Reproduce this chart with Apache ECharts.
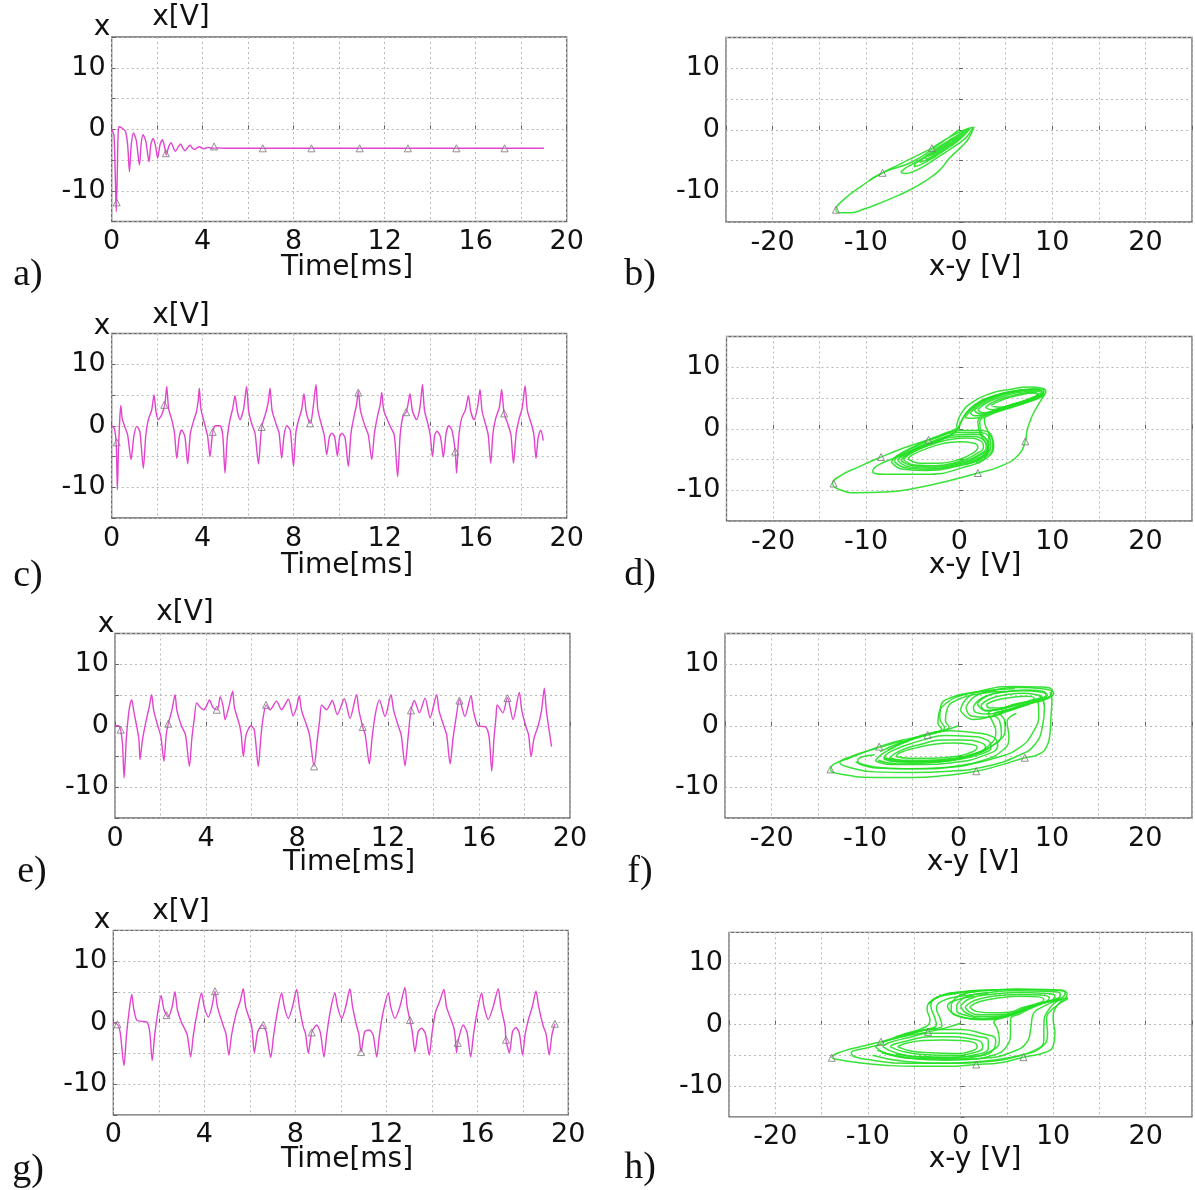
<!DOCTYPE html>
<html>
<head>
<meta charset="utf-8">
<script src="https://cdn.jsdelivr.net/npm/echarts@6/dist/echarts.min.js"></script>
<style>
  html, body { margin: 0; padding: 0; background: #fff; }
  #chart { width: 1195px; height: 1190px; }
</style>
</head>
<body>
<div id="chart"></div>
<script>
// tick labels
var timeTicks = [0, 4, 8, 12, 16, 20];
var phaseTicks = [-20, -10, 0, 10, 20];
var voltTicks = [-10, 0, 10];

// a) transient, x[V] vs time [ms]
var seriesA = [[0,0],[0.1,-1],[0.16,-8],[0.2,-13.4],[0.24,-8],[0.28,-1],[0.32,0.4],[0.45,0.2],[0.6,-0.3],[0.7,-2.5],[0.78,-6.9],[0.86,-2.5],[0.96,-0.6],[1.08,-1.8],[1.22,-5.8],[1.3,-2.2],[1.38,-0.9],[1.5,-2],[1.64,-5.3],[1.72,-2.5],[1.82,-1.5],[1.92,-2.6],[2.02,-4.7],[2.12,-2.6],[2.23,-1.7],[2.32,-2.8],[2.4,-4.2],[2.5,-2.9],[2.61,-2.2],[2.71,-3],[2.8,-3.6],[2.92,-2.9],[3.03,-2.4],[3.13,-3.1],[3.22,-3.5],[3.33,-3],[3.44,-2.6],[3.55,-3.1],[3.65,-3.3],[3.76,-3],[3.87,-2.85],[3.97,-3.1],[4.06,-3.15],[4.17,-3],[4.28,-2.95],[4.4,-3.1],[4.5,-3.1],[4.7,-3.05],[5,-3.1],[19,-3.1]];
var marksA = [[0.22,-11.9],[2.38,-3.9],[4.5,-2.8],[6.64,-3.1],[8.78,-3.1],[10.9,-3.1],[13.02,-3.1],[15.15,-3.1],[17.27,-3.1]];

// c) chaotic regime
var seriesC = [[0,0],[0.12,-0.5],[0.2,-3],[0.25,-10.4],[0.3,-3.5],[0.36,1.5],[0.4,3.3],[0.46,1.2],[0.56,0],[0.7,-1.5],[0.85,-5.5],[0.97,-1.8],[1.1,-0.1],[1.24,-1],[1.39,-6.9],[1.5,-1.5],[1.61,1],[1.76,2.6],[1.86,5.0],[1.95,2.2],[2.05,1],[2.2,1.8],[2.34,3.6],[2.42,6.4],[2.5,2.8],[2.64,1.0],[2.76,-1.2],[2.86,-5.3],[2.97,-1.8],[3.08,-0.7],[3.22,-1.8],[3.34,-6.2],[3.46,-1.2],[3.6,0.8],[3.72,2.2],[3.8,4],[3.85,6.1],[3.92,2.8],[4.05,0.8],[4.14,-0.5],[4.22,-1.8],[4.32,-5.0],[4.44,-1.0],[4.56,0],[4.76,0],[4.88,-1.5],[4.98,-7.7],[5.08,-2],[5.2,1],[5.32,2.8],[5.42,4.9],[5.52,2.4],[5.64,1.0],[5.8,2.8],[5.93,6.4],[6.02,2.4],[6.15,0.4],[6.3,-1.2],[6.45,-6.2],[6.59,-0.2],[6.75,1.8],[6.88,3.8],[6.96,6.1],[7.05,2.5],[7.25,0],[7.36,-1.2],[7.47,-5.3],[7.58,-1.5],[7.7,0],[7.85,-0.8],[7.99,-6.6],[8.1,-1],[8.22,1],[8.35,2.6],[8.45,5.2],[8.55,2.2],[8.68,0.6],[8.74,0.4],[8.85,2.8],[8.98,6.7],[9.06,2.6],[9.23,0],[9.34,-1.5],[9.45,-4.7],[9.57,-1.8],[9.67,-1.2],[9.8,-1.8],[9.92,-4.9],[10.02,-1.8],[10.12,-1.2],[10.26,-2],[10.4,-6.6],[10.52,-1.2],[10.65,1.5],[10.76,3.4],[10.84,5.6],[10.93,2.6],[11.13,0],[11.28,-1.5],[11.43,-5.5],[11.55,-1.2],[11.68,1.5],[11.8,3.4],[11.87,5.4],[11.96,2.5],[12.23,0],[12.42,-1.5],[12.57,-8.3],[12.68,-1.5],[12.8,1.5],[12.94,2.2],[13.02,3.4],[13.11,5.2],[13.22,2.4],[13.4,1],[13.55,3],[13.66,6.7],[13.75,2.5],[13.92,0],[14.0,-1.5],[14.1,-5.0],[14.2,-1.5],[14.3,-0.9],[14.45,-1.8],[14.58,-5.1],[14.7,-1.2],[14.82,0],[14.96,-0.8],[15.1,-4.2],[15.16,-7.7],[15.25,-2],[15.38,1.2],[15.55,2.6],[15.68,4.9],[15.78,2.4],[15.92,1],[16.08,3],[16.19,5.9],[16.28,2.4],[16.45,0],[16.55,-1.5],[16.66,-6.1],[16.76,-1.2],[16.88,1.2],[17.04,3],[17.14,5.9],[17.25,2.0],[17.44,0],[17.55,-1.5],[17.66,-6.1],[17.78,-1.2],[17.9,1],[18.05,3],[18.17,6.5],[18.27,2.5],[18.47,0],[18.56,-1.5],[18.65,-5.3],[18.75,-1.8],[18.86,-0.7],[18.97,-2.4]];
var marksC = [[0.22,-2.7],[2.31,3.4],[4.44,-1.0],[6.59,-0.2],[8.72,0.4],[10.84,5.4],[12.94,2.2],[15.1,-4.2],[17.25,2.0]];

// e)
var seriesE = [[0,0],[0.15,0],[0.25,-0.7],[0.33,-3],[0.4,-8.5],[0.5,-2],[0.6,2],[0.68,3.8],[0.74,4.2],[0.82,2.5],[0.95,0],[1.05,-2.2],[1.1,-5.5],[1.2,-2.5],[1.35,0.5],[1.5,3],[1.61,5.05],[1.7,2.5],[1.88,0],[2.02,-1.8],[2.15,-5.8],[2.25,-1.5],[2.34,0.3],[2.5,2.5],[2.64,5.05],[2.72,2.5],[2.92,0],[3.1,-1.5],[3.27,-6.6],[3.38,-2],[3.48,1],[3.59,3.7],[3.75,3.0],[3.9,2.6],[4.02,3.2],[4.15,4.2],[4.3,3.0],[4.47,2.6],[4.55,3.2],[4.62,4.7],[4.75,3.2],[4.84,1.0],[5.0,3],[5.17,5.6],[5.25,3],[5.48,0],[5.55,-1.5],[5.64,-5],[5.76,-1.5],[5.97,0],[6.12,-0.6],[6.3,-6.6],[6.42,-1.5],[6.52,1.5],[6.64,3.4],[6.82,2.6],[7.1,4],[7.32,2.6],[7.62,4.3],[7.83,1.6],[7.98,3],[8.1,4.9],[8.2,2.5],[8.43,0],[8.55,-1.5],[8.75,-6.6],[8.9,-2],[9.0,1],[9.08,3.4],[9.3,2.6],[9.55,4.1],[9.77,1.8],[10.08,4.4],[10.33,1.2],[10.62,5.05],[10.72,2.5],[10.89,-0.2],[11.0,-1.5],[11.18,-6.2],[11.3,-2],[11.45,2],[11.62,4.2],[11.87,1.5],[12.13,5.05],[12.25,2.5],[12.45,0],[12.58,-1.5],[12.75,-6.5],[12.88,-2],[13.01,2.5],[13.16,4.1],[13.38,2.1],[13.63,4.5],[13.85,1.3],[14.14,5.05],[14.24,2.5],[14.45,0],[14.58,-1.5],[14.73,-6.2],[14.86,-2],[15.0,1.5],[15.14,4.3],[15.38,1.5],[15.65,4.9],[15.75,2.5],[15.95,0],[16.3,-0.2],[16.45,-2],[16.56,-7.4],[16.66,-2],[16.75,1.5],[16.8,3.4],[17.05,2.1],[17.25,4.6],[17.5,1],[17.77,5.4],[17.88,2.5],[18.05,0],[18.18,-1.5],[18.29,-5],[18.42,-2],[18.6,0],[18.75,2.5],[18.87,6.1],[18.96,2.5],[19.19,-3.4]];
var marksE = [[0.25,-0.65],[2.34,0.33],[4.47,2.6],[6.64,3.4],[8.75,-6.6],[10.89,-0.2],[13.01,2.5],[15.14,4.1],[17.25,4.5]];

// g)
var seriesG = [[0,0],[0.18,-0.3],[0.3,-1.5],[0.47,-7.0],[0.58,-2],[0.7,2],[0.81,4.6],[0.9,2.2],[1.03,0.4],[1.25,0.2],[1.47,0.1],[1.6,-1.5],[1.71,-6.2],[1.82,-2],[1.95,1.5],[2.1,4.4],[2.22,2.2],[2.34,1.2],[2.42,0.9],[2.58,2.5],[2.71,5.0],[2.82,2],[3.0,0],[3.08,-0.6],[3.25,-2],[3.4,-5.6],[3.52,-2],[3.68,1.5],[3.88,4.8],[4.0,2.5],[4.18,0.9],[4.33,2.5],[4.47,5.1],[4.58,2.5],[4.84,-0.6],[4.95,-1.8],[5.08,-5.3],[5.2,-2],[5.4,1.5],[5.58,3.5],[5.71,5.5],[5.82,2.5],[6.08,-0.6],[6.2,-4.9],[6.35,-1.5],[6.55,-0.4],[6.72,-1.5],[6.92,-5.7],[7.05,-2],[7.2,1.5],[7.4,4.8],[7.52,2.5],[7.69,0.65],[7.88,2.6],[8.06,5.4],[8.18,2.5],[8.35,-0.7],[8.45,-1.8],[8.57,-5.0],[8.72,-1.6],[8.94,-0.4],[9.1,-1.6],[9.26,-5.6],[9.38,-2],[9.52,1.5],[9.74,4.8],[9.86,2.5],[10.04,0.65],[10.22,2.6],[10.4,5.5],[10.52,2.5],[10.7,-0.6],[10.79,-1.8],[10.89,-4.8],[11.05,-1.5],[11.25,-1.2],[11.42,-2],[11.58,-5.6],[11.7,-2],[11.85,1.5],[12.09,4.8],[12.2,2.5],[12.38,0.65],[12.6,2.6],[12.82,5.7],[12.92,2.5],[13.04,0.4],[13.14,-1.5],[13.26,-4.8],[13.4,-1.5],[13.55,-0.9],[13.72,-1.8],[13.89,-5.3],[14.0,-2],[14.15,1.5],[14.35,3.5],[14.53,5.4],[14.65,2.5],[14.95,-0.6],[15.02,-2],[15.09,-4.9],[15.14,-3.3],[15.38,-0.4],[15.55,-1.6],[15.71,-5.6],[15.83,-2],[15.98,1.5],[16.19,4.8],[16.3,2.5],[16.48,0.5],[16.7,2.6],[16.92,5.5],[17.04,2.5],[17.22,-0.6],[17.26,-2.8],[17.41,-4.9],[17.55,-1.5],[17.7,-0.8],[17.85,-1.8],[17.99,-5.3],[18.1,-2],[18.24,0.4],[18.42,2.6],[18.58,5.1],[18.7,2.5],[18.9,-0.6],[19.02,-1.8],[19.16,-5.3],[19.28,-2],[19.41,-0.2]];
var marksG = [[0.18,-0.3],[2.34,1.2],[4.47,5.1],[6.59,-0.4],[8.72,-1.6],[10.89,-4.8],[13.04,0.4],[15.14,-3.3],[17.26,-2.8],[19.41,-0.2]];

// b) phase portrait x-y vs x, transient spiral
var loopsB = [
  [[0,0],[-2,-2.2],[-5,-5.2],[-8.2,-7],[-10.5,-9.2],[-12.4,-11.4],[-13.2,-13],[-12.6,-13.5],[-11.6,-13.5],[-10.2,-12.9],[-8.6,-12],[-7,-11],[-5.3,-9.8],[-3.6,-8.3],[-2.1,-6.6],[-1,-4.6],[0.3,-2.7],[1.0,-1.5],[1.6,0.4],[1.2,0.3],[0,-0.4],[-1.5,-1.6],[-2.9,-3]],
  [[-2.9,-3],[-4.5,-4.2],[-6.5,-5.7],[-8.2,-7],[-9.6,-8.2]],
  [[1.5,0.4],[0.8,-1.2],[-0.5,-2.7],[-2,-4.2],[-3.3,-5.5],[-4.6,-6.6],[-5.7,-7.1],[-6.2,-6.9],[-5.8,-6.3],[-4.9,-5.5],[-3.5,-4.2],[-2.1,-2.7],[-0.6,-1.3],[0.6,-0.2],[1.2,0.2],[0.2,-1.4],[-1.2,-3],[-2.6,-4.4],[-4,-5.6],[-4.8,-6],[-4.6,-5.4],[-3.4,-4.3],[-2,-2.9],[-0.6,-1.5],[0.6,-0.4],[0.9,-0.3],[-0.4,-1.8],[-1.8,-3.4],[-3.2,-4.7],[-4.2,-5.3],[-4,-4.8],[-2.8,-3.7],[-1.4,-2.3],[-0.1,-1],[0.5,-0.7],[-0.8,-2.1],[-2.2,-3.6],[-3.5,-4.7],[-3.6,-4.4],[-2.5,-3.4],[-1.2,-2.1],[0,-1.1],[-0.3,-1.5],[-1.5,-2.8],[-2.8,-4],[-3.3,-4.3],[-2.9,-3.8],[-1.8,-2.7],[-0.8,-1.7],[-1.2,-2.2],[-2.3,-3.3],[-3.0,-3.9],[-2.8,-3.6],[-1.9,-2.7],[-1.3,-2.2],[-1.8,-2.7],[-2.7,-3.5],[-2.6,-3.3],[-2.0,-2.8],[-2.4,-3.1]]
];
var marksB = [[-13.2,-13],[-8.2,-7],[-2.9,-3]];

// d) double scroll
var loopsD = [
  [[9.2,5.6],[8.6,4.2],[7.8,2.0],[7.3,-0.2],[7.1,-2.0],[6.4,-4.2],[4.6,-6.0],[2.0,-7.2],[-1,-8.4],[-4.5,-9.6],[-8,-10.3],[-11,-10.4],[-13,-9.8],[-13.6,-8.9],[-12.7,-7.6],[-10.8,-6.2],[-8.4,-4.6],[-5.9,-3.1],[-3.3,-1.8],[-1.3,-0.8],[-0.2,0.2]],
  [[3.2,-0.8],[3.0,-4.0],[0.2,-6.4],[-4,-7.4],[-7.6,-7.4],[-9.3,-7.0],[-8.8,-6.0],[-7,-4.8],[-5,-3.5]],
  [[-0.3,0.3],[0.3,2.7],[1.6,4.5],[3.3,5.7],[5.4,6.4],[7.5,6.8],[8.9,6.6],[9.3,6.0],[8.7,5.1],[7.1,4.2],[5.1,3.2],[3.2,2.2],[2.2,1.0],[2.4,-0.8],[3.2,-2.6],[2.8,-4.4],[1.2,-5.6]],
  [[1.2,2.6],[2.4,4.2],[4.2,5.4],[6.3,6.1],[8.2,6.4],[9.0,5.9],[8.4,5.0],[6.6,4.0],[4.6,3.1],[2.7,2.3],[1.6,2.1],[1.2,2.6]],
  [[2.0,3.1],[3.2,4.4],[5.0,5.4],[7.0,6.0],[8.6,6.1],[8.7,5.5],[7.6,4.7],[5.8,3.8],[3.9,3.0],[2.5,2.6],[2.0,3.1]],
  [[2.8,3.5],[4.0,4.6],[5.8,5.4],[7.6,5.9],[8.5,5.7],[8.2,5.1],[6.8,4.4],[5.0,3.6],[3.5,3.1],[2.8,3.5]],
  [[3.4,3.8],[4.8,4.8],[6.5,5.5],[8.0,5.8],[8.4,5.4],[7.5,4.8],[6.0,4.1],[4.3,3.5],[3.4,3.8]],
  [[0.6,1.8],[1.8,3.8],[3.6,5.2],[5.8,6.0],[7.9,6.5],[9.1,6.3],[8.9,5.4],[7.3,4.5],[5.4,3.6],[3.3,2.6],[1.6,1.7],[0.6,1.8]],
  [[1.6,3.0],[2.9,4.4],[4.8,5.6],[6.8,6.2],[8.5,6.3],[8.9,5.7],[8.0,4.9],[6.2,4.0],[4.2,3.1],[2.3,2.4],[1.6,3.0]],
  [[8.5,5.5],[6.7,4.4],[4.4,3.3],[2.8,2.3],[2.0,1.0],[2.3,-1.0],[3.0,-3.0],[2.4,-4.6],[0.6,-5.8]],
  [[9.0,5.8],[7.2,4.6],[5,3.6],[3.3,2.6],[2.7,1.4],[3.1,-0.5],[3.7,-2.5],[3.3,-4.3],[1.8,-5.5]],
  [[-6.5,-4.8],[-4.5,-3.2],[-2.2,-1.8],[-0.4,-0.5],[0.2,1.2],[1.0,3.0],[2.4,4.5],[4.5,5.7],[6.8,6.4]],
  [[-6,-4.6],[-3.9,-3],[-1.5,-1.5],[-0.2,0],[0.6,2.2],[1.8,4.0],[3.8,5.4],[6,6.1]],
  [[-7.3,-5.4],[-6.0,-6.6],[-3.5,-6.8],[-0.5,-6.2],[2.2,-4.9],[3.6,-3.0],[3.5,-1.2],[2.2,-0.3],[0,-0.3],[-2.5,-1.3],[-5,-3.0],[-6.8,-4.5],[-7.3,-5.4]],
  [[-6.6,-5.2],[-5.3,-6.2],[-3,-6.4],[-0.3,-5.8],[2.0,-4.5],[3.1,-2.9],[2.8,-1.5],[1.5,-0.9],[-0.5,-1],[-2.8,-2],[-5,-3.4],[-6.3,-4.5],[-6.6,-5.2]],
  [[-6.0,-5.0],[-4.8,-5.9],[-2.6,-6.0],[-0.2,-5.4],[1.7,-4.2],[2.6,-2.9],[2.2,-1.9],[0.8,-1.5],[-1.2,-1.8],[-3.2,-2.7],[-5,-3.8],[-6,-5]],
  [[-5.5,-4.9],[-4.2,-5.6],[-2.2,-5.6],[0,-5.0],[1.4,-4.0],[2.0,-3.0],[1.5,-2.3],[0,-2.1],[-2,-2.5],[-3.8,-3.4],[-5.1,-4.3],[-5.5,-4.9]],
  [[-7.0,-5.3],[-5.6,-6.4],[-3.2,-6.6],[-0.4,-6.0],[2.1,-4.7],[3.4,-2.9],[3.2,-1.3],[1.9,-0.6],[-0.2,-0.6],[-2.7,-1.6],[-5.1,-3.2],[-6.6,-4.5],[-7.0,-5.3]],
  [[-6.3,-5.1],[-5.0,-6.0],[-2.8,-6.2],[-0.2,-5.6],[1.9,-4.4],[2.9,-2.9],[2.5,-1.7],[1.1,-1.2],[-0.9,-1.4],[-3.0,-2.3],[-5.1,-3.6],[-6.3,-5.1]]
];
var marksD = [[-13.5,-8.9],[-8.4,-4.6],[-3.3,-1.8],[2.0,-7.2],[7.1,-2.05]];

// f)
var loopsF = [
  [[9.8,5.5],[10,4.2],[9.9,1.5],[9.8,-1.2],[9.4,-3.5],[8.5,-4.7],[7.1,-5.2],[4.5,-6.4],[1.9,-7.4],[-1.5,-8.1],[-5,-8.4],[-9,-8.4],[-12,-8.0],[-13.7,-7.1],[-13.3,-6.2],[-11.6,-5.2],[-8.5,-3.4],[-6,-2.3],[-3.3,-1.5],[-1.2,-0.6],[0,0]],
  [[8.8,5.0],[9.2,3.0],[9.0,0],[8.2,-3.0],[6.5,-4.8],[3,-6.6],[-1,-7.4],[-5,-7.6],[-9,-7.5],[-11.8,-6.7],[-12.7,-6.0],[-11.5,-5.0],[-9,-3.8],[-6,-2.4]],
  [[8.5,4.2],[8.6,2.0],[8.0,-1.0],[6.5,-3.6],[4,-5.2],[0,-6.5],[-4,-7],[-8,-6.9],[-10.5,-6.3],[-10.8,-5.6],[-9,-4.7]],
  [[0.8,3.0],[1.8,4.8],[3.8,5.8],[6.5,6.2],[9.0,6.0],[10.2,5.3],[9.5,4.4],[7.5,3.5],[5.2,2.3],[3.0,1.4],[1.4,1.6],[0.8,3.0]],
  [[1.6,3.2],[2.6,4.6],[4.4,5.4],[6.8,5.7],[8.8,5.5],[9.5,4.9],[8.7,4.2],[6.8,3.4],[4.8,2.4],[3.0,1.9],[1.8,2.2],[1.6,3.2]],
  [[2.4,3.4],[3.4,4.4],[5.0,5.0],[7.0,5.3],[8.5,5.0],[8.8,4.5],[7.8,4.0],[6.0,3.3],[4.2,2.6],[2.9,2.5],[2.4,3.4]],
  [[3.0,3.5],[4.1,4.2],[5.6,4.6],[7.2,4.8],[8.1,4.5],[7.6,4.0],[6.0,3.5],[4.4,2.9],[3.3,2.9],[3.0,3.5]],
  [[0.2,2.5],[1.0,4.6],[3.0,5.9],[6.0,6.4],[8.6,6.3],[10.0,5.8],[9.9,5.0],[8.3,4.0],[6,2.9],[3.6,1.6],[1.6,1.0],[0.2,2.5]],
  [[2.0,3.6],[3.0,4.8],[4.8,5.5],[7.2,5.8],[9.0,5.6],[9.4,5.0],[8.2,4.3],[6.4,3.6],[4.6,2.8],[3.0,2.4],[2.0,3.6]],
  [[4.0,5.7],[1.5,5.4],[-0.8,4.6],[-1.9,3.2],[-2.0,1.2],[-1.5,-0.3],[-3.5,-1.4],[-6,-2.6],[-8.4,-4.2]],
  [[5.0,5.6],[2.2,5.2],[0,4.3],[-1.2,2.8],[-1.4,0.8],[-1.0,-0.2],[-3,-1.2],[-5.5,-2.4],[-7.6,-4.0]],
  [[6,6],[3,5.7],[0.5,5.0],[-1.2,3.8],[-2.1,2.0],[-2.2,0.4],[-1.8,-0.5],[-4,-1.6],[-6.5,-3.0]],
  [[-8.6,-5.6],[-6.5,-6.2],[-3,-6],[0.5,-5.2],[3.2,-3.6],[4.6,-1.4],[4.4,0.8],[3.8,1.8],[5.5,2.6],[7.5,3.5]],
  [[-7.8,-5.4],[-5.5,-5.9],[-2,-5.7],[1.2,-4.8],[3.4,-3.0],[4.0,-1.0],[3.6,0.8],[3.2,2.0],[4.8,2.8],[6.5,3.6]],
  [[-8,-5.2],[-5,-5.8],[-1.5,-5.6],[1.8,-4.6],[4,-2.8],[5.0,-0.6],[4.9,1.0],[4.4,2.0],[6.0,2.8],[8,3.8]],
  [[-8.9,-5.7],[-7.2,-6.3],[-4,-6.3],[-0.6,-6.0],[2.6,-4.9],[4.2,-3.2],[3.7,-1.8],[1.6,-1.1],[-1,-0.8],[-3.6,-1.6],[-6.2,-3.0],[-8.2,-4.6],[-8.9,-5.7]],
  [[-8.0,-5.4],[-6.5,-5.9],[-3.6,-5.9],[-0.5,-5.6],[2.2,-4.7],[3.5,-3.4],[3.0,-2.3],[1.0,-1.7],[-1.4,-1.6],[-3.8,-2.3],[-6.2,-3.5],[-7.7,-4.6],[-8.0,-5.4]],
  [[-7.4,-5.2],[-6,-5.6],[-3.4,-5.6],[-0.5,-5.3],[1.8,-4.5],[2.9,-3.5],[2.3,-2.7],[0.4,-2.3],[-1.8,-2.3],[-4,-3.0],[-6.2,-4.0],[-7.4,-5.2]],
  [[-6.7,-5.0],[-5.2,-5.3],[-2.8,-5.3],[-0.3,-5.0],[1.4,-4.3],[2.0,-3.5],[1.2,-3.0],[-0.6,-2.8],[-2.6,-3.0],[-4.6,-3.6],[-6.3,-4.4],[-6.7,-5.0]],
  [[-11,-5.9],[-9,-6.7],[-5.5,-7.0],[-1.5,-6.8],[2.2,-5.8],[4.8,-3.9],[5.4,-1.8],[5.2,0.6],[6.2,2.0]]
];
var marksF = [[-13.7,-7.1],[-8.5,-3.4],[-3.3,-1.5],[1.9,-7.4],[7.1,-5.2]];

// h)
var loopsH = [
  [[11.6,4.4],[10.5,3.2],[10.0,1.0],[10.2,-1.5],[10.0,-3.5],[9.2,-4.5],[6.8,-5.3],[4.3,-6.2],[1.7,-6.5],[-1.5,-6.8],[-5,-6.8],[-8.2,-6.6],[-11,-6.2],[-13.2,-5.7],[-13.9,-5.3],[-12.8,-4.4],[-10.5,-3.5],[-8.6,-2.8],[-6,-1.9],[-3.5,-1.2],[-1.5,-0.5],[0,0.2]],
  [[10.8,4.1],[9.6,2.6],[9.0,0],[9.0,-2.6],[8,-4.2],[5.5,-5.3],[2,-6.0],[-2,-6.3],[-6,-6.3],[-9.5,-5.8],[-11.5,-5.2],[-11.8,-4.6],[-10.4,-3.9],[-8.4,-3.2]],
  [[-3.4,3.4],[-2.2,4.6],[0,5.3],[3,5.6],[6.5,5.7],[9.5,5.6],[11.5,5.1],[11.3,4.3],[9.2,3.6],[7,2.6],[5,1.4],[3,0.9],[1,1.0],[-0.8,1.8],[-1.4,3.0],[-0.6,3.9],[1.5,4.6]],
  [[-0.4,3.2],[0.6,4.5],[3,5.2],[6,5.5],[9,5.4],[10.8,5.0],[10.5,4.2],[8.6,3.4],[6.6,2.2],[4.6,1.3],[2.4,1.0],[0.6,1.5],[-0.4,2.3],[-0.4,3.2]],
  [[0,3.0],[1,4.2],[3.2,4.9],[6.2,5.2],[8.8,5.1],[10.2,4.6],[9.8,3.9],[8,3.2],[6.2,2.0],[4.3,1.4],[2.3,1.3],[0.7,1.8],[0,3.0]],
  [[0.5,2.9],[1.5,3.9],[3.5,4.6],[6.3,4.9],[8.6,4.8],[9.6,4.3],[9,3.6],[7.4,3.0],[5.8,2.0],[4,1.6],[2.2,1.6],[0.9,2.1],[0.5,2.9]],
  [[-1,3.3],[0,4.8],[2.6,5.5],[6,5.8],[9.4,5.7],[11.3,5.3],[11.0,4.4],[9,3.6],[7,2.4],[4.8,1.2],[2.4,0.8],[0.3,1.2],[-1,2.2],[-1,3.3]],
  [[1.0,2.9],[2.0,3.7],[4,4.3],[6.5,4.6],[8.4,4.5],[9.0,4.0],[8.2,3.4],[6.8,2.8],[5.2,2.0],[3.5,1.9],[1.8,2.1],[1.0,2.9]],
  [[2,5.4],[-1.5,4.8],[-3.2,3.8],[-3.6,2.4],[-3.3,0.8],[-3.8,-0.4],[-6,-1.5],[-8.5,-2.9]],
  [[4,5.6],[0,5.3],[-2.6,4.4],[-3.2,3.0],[-2.8,1.2],[-2.6,0],[-4.5,-1.0],[-7,-2.0]],
  [[3,5.0],[0,4.6],[-2,3.8],[-2.6,2.6],[-2.2,1.0],[-2.0,-0.2],[-3.6,-0.8],[-6,-1.7]],
  [[-9.0,-4.2],[-6.5,-5.2],[-3,-5.6],[0.5,-5.6],[3.5,-5.0],[5.0,-3.5],[5.4,-1.2],[5.4,0.8],[6.5,1.8],[8.5,3.2],[10.6,4.3]],
  [[-8.5,-4.6],[-5.5,-5.5],[-1.5,-5.8],[2.5,-5.5],[5.5,-4.5],[7.2,-2.8],[7.6,-0.5],[7.8,1.5],[9.0,3.0],[11,4.2]],
  [[-9.5,-5],[-6,-6],[-1,-6.3],[3,-6.0],[6.5,-5.0],[8.8,-3.6],[9.4,-1.5],[9.3,0.8],[10,2.6],[11.6,4.2]],
  [[-7,-4.8],[-3,-5.4],[1,-5.2],[3.4,-4.2],[4.2,-2.6],[4.0,-0.8],[3.6,0.4],[4.8,1.2],[7,2.4]],
  [[-9.2,-3.6],[-7.8,-4.8],[-4.8,-5.5],[-1,-5.6],[1.8,-5.2],[3.6,-4],[3.8,-2.5],[2.4,-1.5],[0,-0.8],[-3,-0.8],[-6,-1.8],[-8.4,-2.9],[-9.2,-3.6]],
  [[-8.4,-3.6],[-7,-4.6],[-4.4,-5.2],[-1,-5.3],[1.6,-4.9],[3.0,-3.8],[3.0,-2.6],[1.8,-1.9],[-0.4,-1.4],[-3.2,-1.4],[-5.8,-2.2],[-7.8,-3.0],[-8.4,-3.6]],
  [[-7.6,-3.6],[-6.2,-4.4],[-3.8,-4.9],[-0.8,-5.0],[1.4,-4.6],[2.4,-3.7],[2.2,-2.8],[1,-2.3],[-1,-2.0],[-3.4,-2.0],[-5.6,-2.6],[-7.2,-3.2],[-7.6,-3.6]],
  [[-6.8,-3.6],[-5.4,-4.3],[-3.2,-4.6],[-0.6,-4.7],[1.2,-4.3],[1.8,-3.6],[1.4,-2.9],[0,-2.6],[-2,-2.5],[-4,-2.6],[-5.8,-3.0],[-6.8,-3.6]]
];
var marksH = [[-13.9,-5.4],[-8.6,-2.8],[-3.5,-1.2],[1.7,-6.5],[6.8,-5.3]];

// ---- layout ----
var grids = [
  { left: 111.7, top: 37, width: 455, height: 184.5 },   // a
  { left: 726, top: 37.5, width: 468, height: 184.5 },   // b
  { left: 111.7, top: 333.5, width: 455, height: 184.5 },// c
  { left: 726.5, top: 336.5, width: 468, height: 184.5 },// d
  { left: 115, top: 633.5, width: 455, height: 184.5 },  // e
  { left: 725, top: 633.5, width: 467, height: 184.5 },  // f
  { left: 113.3, top: 930.3, width: 455, height: 184.5 },// g
  { left: 729, top: 932.3, width: 466, height: 184.5 }   // h
];

var FONT = '"DejaVu Sans", sans-serif';
var gridLine = { show: true, lineStyle: { color: '#b8b8b8', type: [2, 3], width: 1 } };
var tick = { show: true, inside: true, length: 4, lineStyle: { color: '#666' } };

var xAxes = [], yAxes = [];
grids.forEach(function (g, i) {
  g.show = true;
  g.borderColor = '#6a6a6a';
  g.borderWidth = 1.3;
  g.containLabel = false;
  var isTime = (i % 2 === 0);
  var ticks = isTime ? timeTicks : phaseTicks;
  xAxes.push({
    gridIndex: i, type: 'value',
    min: isTime ? 0 : -25, max: isTime ? 20 : 25, interval: isTime ? 2 : 5,
    axisLine: { show: false }, axisTick: tick, splitLine: gridLine,
    axisLabel: {
      fontFamily: FONT, fontSize: 27, color: '#111', margin: 7,
      formatter: function (v) { return ticks.indexOf(v) >= 0 ? String(v) : ''; }
    }
  });
  yAxes.push({
    gridIndex: i, type: 'value', min: -15, max: 15, interval: 5,
    axisLine: { show: false }, axisTick: tick, splitLine: gridLine,
    axisLabel: {
      fontFamily: FONT, fontSize: 27, color: '#111', margin: 6,
      formatter: function (v) { return voltTicks.indexOf(v) >= 0 ? String(v) : ''; }
    }
  });
});

var MAGENTA = '#e244cf';
var GREEN = '#22e022';
var series = [];

function timeLine(data, idx) {
  series.push({
    type: 'line', xAxisIndex: idx, yAxisIndex: idx, data: data,
    smooth: 0.25, showSymbol: false, silent: true,
    lineStyle: { color: MAGENTA, width: 1.4 }
  });
}
function phaseLoops(loops, idx) {
  loops.forEach(function (l) {
    series.push({
      type: 'line', xAxisIndex: idx, yAxisIndex: idx, data: l,
      smooth: 0.5, showSymbol: false, silent: true,
      lineStyle: { color: GREEN, width: 1.5, opacity: 0.9 }
    });
  });
}
function marks(data, idx) {
  series.push({
    type: 'scatter', xAxisIndex: idx, yAxisIndex: idx, data: data,
    symbol: 'triangle', symbolSize: 7, silent: true, z: 5,
    itemStyle: { color: 'rgba(255,255,255,0.2)', borderColor: '#777', borderWidth: 1 }
  });
}

timeLine(seriesA, 0); marks(marksA, 0);
phaseLoops(loopsB, 1); marks(marksB, 1);
timeLine(seriesC, 2); marks(marksC, 2);
phaseLoops(loopsD, 3); marks(marksD, 3);
timeLine(seriesE, 4); marks(marksE, 4);
phaseLoops(loopsF, 5); marks(marksF, 5);
timeLine(seriesG, 6); marks(marksG, 6);
phaseLoops(loopsH, 7); marks(marksH, 7);

// axis names and panel letters
var texts = [
  ['x', 102, 28], ['x[V]', 181, 18], ['Time[ms]', 347, 268], ['x-y [V]', 975, 268],
  ['x', 102, 327], ['x[V]', 181, 316], ['Time[ms]', 347, 566], ['x-y [V]', 975, 566],
  ['x', 106, 625], ['x[V]', 185, 613], ['Time[ms]', 349, 863], ['x-y [V]', 973, 863],
  ['x', 102, 921], ['x[V]', 181, 912], ['Time[ms]', 347, 1160], ['x-y [V]', 975, 1160]
];
var letters = [
  ['a)', 28, 275], ['b)', 640, 275], ['c)', 28, 576], ['d)', 640, 575],
  ['e)', 32, 872], ['f)', 640, 872], ['g)', 28, 1170], ['h)', 640, 1168]
];
var graphics = [];
texts.forEach(function (t) {
  graphics.push({ type: 'text', x: t[1], y: t[2], style: {
    text: t[0], font: '28px ' + FONT, fill: '#111', textAlign: 'center', textVerticalAlign: 'middle' } });
});
letters.forEach(function (t) {
  graphics.push({ type: 'text', x: t[1], y: t[2], style: {
    text: t[0], font: '38px "Liberation Serif", "DejaVu Serif", serif', fill: '#111', textAlign: 'center', textVerticalAlign: 'middle' } });
});

var chart = echarts.init(document.getElementById('chart'));
chart.setOption({
  animation: false,
  backgroundColor: '#fff',
  grid: grids,
  xAxis: xAxes,
  yAxis: yAxes,
  series: series,
  graphic: graphics
});
</script>
</body>
</html>
